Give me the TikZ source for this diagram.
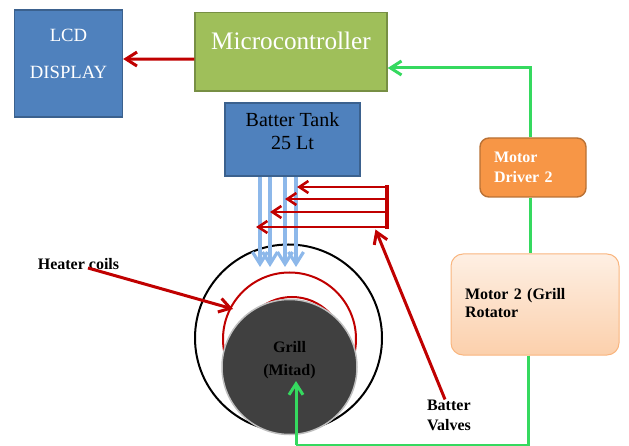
\documentclass[tikz,border=0pt]{standalone}
\usepackage{fontspec}
\setmainfont{Liberation Serif}
\usetikzlibrary{arrows.meta}
\definecolor{boxblue}{HTML}{4F81BD}
\definecolor{boxgreen}{HTML}{9FBF5A}
\definecolor{boxorange}{HTML}{F79646}
\definecolor{linered}{HTML}{C00000}
\definecolor{linegreen}{HTML}{35D95F}
\definecolor{lineblue}{HTML}{8DB8EA}
\tikzset{
  bluebox/.style={draw=boxblue!75!black,fill=boxblue,line width=1.4pt,inner sep=0pt,align=center},
  redline/.style={draw=linered,line width=2.2pt,-{Straight Barb[length=9pt,width=12pt,line width=2.6pt]}},
  bigred/.style={draw=linered,line width=3pt,-{Straight Barb[length=11pt,width=14pt,line width=3pt]}},
  greenline/.style={draw=linegreen,line width=3pt},
  greenarrow/.style={greenline,-{Straight Barb[length=11pt,width=14pt,line width=3pt]}},
  blueline/.style={draw=lineblue,line width=3.2pt,-{Straight Barb[length=12pt,width=15pt,line width=3.2pt]}},
  boldlabel/.style={font=\fontsize{16}{20}\selectfont\bfseries,inner sep=0pt,align=left}
}
\begin{document}
\begin{tikzpicture}[x=1pt,y=-1pt]
\useasboundingbox (0,0) rectangle (629,446);
% boxes
\node[bluebox,minimum width=108pt,minimum height=107pt,text=white,font=\fontsize{18.7}{37}\selectfont,text height=31pt,text depth=0pt] (lcd) at (68.5,63.5) {LCD\\DISPLAY};
\node[draw=boxgreen!75!black,fill=boxgreen,line width=1.4pt,minimum width=192pt,minimum height=78.5pt,inner sep=0pt,text=white,font=\fontsize{25.2}{28}\selectfont,text height=16pt,text depth=19.5pt] (micro) at (291,51.75) {Microcontroller};
\node[bluebox,minimum width=135pt,minimum height=73pt,font=\fontsize{20}{23}\selectfont,text height=20pt,text depth=0pt] (tank) at (292.5,139.5) {Batter Tank\\25 Lt};
\node[draw=boxorange!75!black,fill=boxorange,line width=1.4pt,rounded corners=9pt,minimum width=106pt,minimum height=59pt,inner ysep=0pt,text width=78pt,text=white,boldlabel,inner xsep=14pt,text height=11pt,text depth=20pt] (driver) at (533,167.5) {Motor\\Driver 2};
\node[draw=boxorange!70,top color=boxorange!15,bottom color=boxorange!45,line width=1pt,rounded corners=12pt,minimum width=168pt,minimum height=101pt,boldlabel,font=\fontsize{16}{18}\selectfont\bfseries,inner xsep=14pt,text width=140pt,text height=11pt,text depth=21pt] (motor) at (535,304.5) {Motor 2 (Grill\\Rotator};
% grill and coils
\node[draw=black,line width=2pt,circle,minimum size=187pt,inner sep=0pt] (outer) at (288.5,338) {};
\draw[linered,line width=2pt] (289.5,339) circle (66.5pt); % outer coil
\draw[linered,line width=2pt] (292,349) circle (52pt); % inner coil
\node[draw=gray!50,fill=black!75,line width=1.5pt,circle,minimum size=135pt,inner sep=0pt,boldlabel,align=center,font=\fontsize{16}{23}\selectfont\bfseries,text height=17pt,text depth=0pt] (grill) at (289.5,367) {Grill\\(Mitad)};
% labels
\node[boldlabel] (heater) at (78.5,264) {Heater coils};
\node[boldlabel] (valves) at (449,415) {Batter\\Valves};
% named ends
\coordinate (coilstart) at (88,268);
\coordinate (coiltip) at (233,309);
\coordinate (valvetop) at (387,187);
\coordinate (valvebot) at (387,227);
\coordinate (valvetip) at (375.5,229.5);
\coordinate (grillbase) at (296,445);
\coordinate (grilltip) at (296,381);
% blue pipes
\foreach \x in {260,270,285,296}
{
\coordinate (pipe\x) at (\x,267);
\draw[blueline] (\x,0 |- tank.south) -- (pipe\x);
}
% red valves
\draw[draw=linered,line width=3.5pt,line cap=rect] (valvetop) -- (valvebot);
\foreach \y/\x in {187/297,199/285,212/270,227/256}
{
\coordinate (valve\x) at (\x,\y);
\draw[redline] (387,\y) -- (valve\x);
}
\draw[bigred] ([yshift=-7.5pt]micro.west) -- ([yshift=4.5pt]lcd.east);
\draw[bigred] (coilstart) -- (coiltip);
\draw[bigred] ([xshift=-4pt]valves.north) -- (valvetip);
% green lines
\draw[greenarrow] ([xshift=-3pt]driver.north) |- ([yshift=-16.25pt]micro.east);
\draw[greenline] ([xshift=-3pt]driver.south) -- ([xshift=-5pt]motor.north);
\draw[greenline] ([xshift=-7pt]motor.south) |- (grillbase);
\draw[greenarrow] (grillbase) -- (grilltip);
\end{tikzpicture}
\end{document}
